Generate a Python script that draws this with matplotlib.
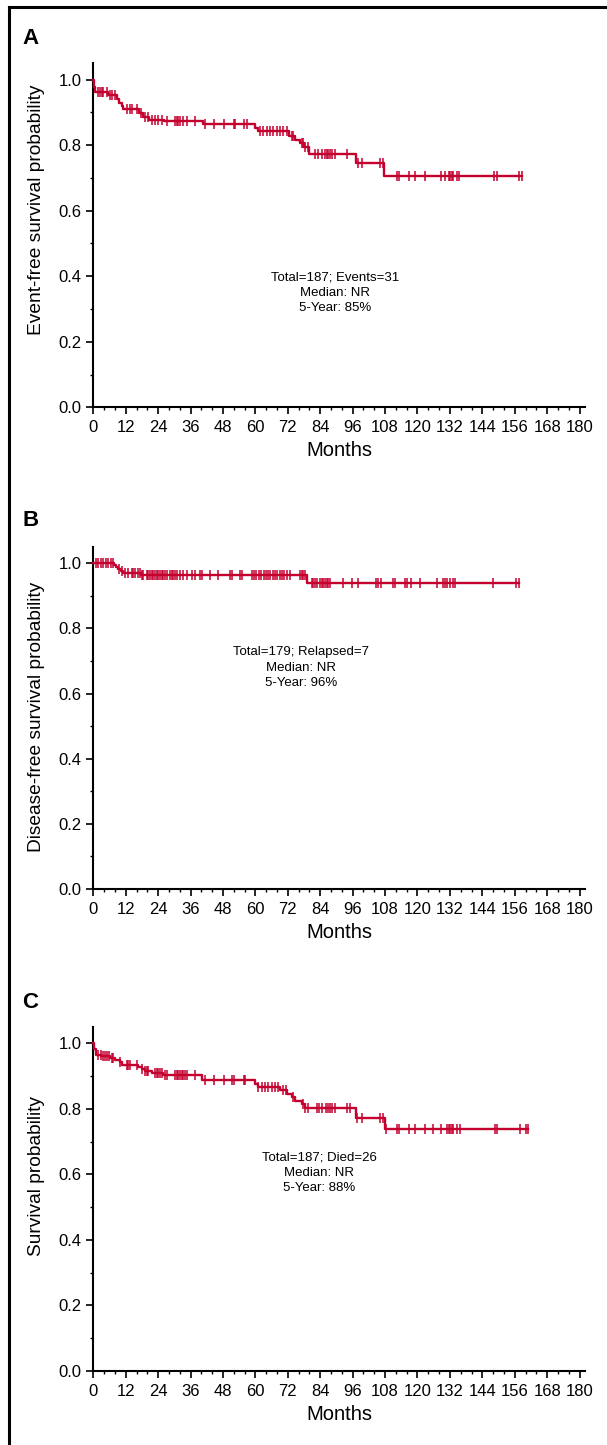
import matplotlib
matplotlib.use('Agg')
import matplotlib.pyplot as plt
from matplotlib.lines import Line2D
from matplotlib.ticker import MultipleLocator, FixedLocator
from matplotlib import font_manager
import numpy as np

plt.rcParams['font.family'] = ['Liberation Sans', 'DejaVu Sans']
_names = {f.name for f in font_manager.fontManager.ttflist}
NARROW = 'Liberation Sans Narrow' if 'Liberation Sans Narrow' in _names else None

RED = '#c4002f'
month_ticks = list(range(0, 181, 12))
y_ticks = [0.0, 0.2, 0.4, 0.6, 0.8, 1.0]

# ---------------- Panel A : event-free survival ----------------
a_times = [0, 0.3, 0.8, 5.5, 8.7, 9.6, 10.5, 11.0, 17.0, 18.5, 20.5, 26.0, 40.5,
           60.0, 61.0, 72.5, 74.5, 76.5, 78.0, 80.0, 97.3, 107.7]
a_surv = [1.0, 0.978, 0.962, 0.952, 0.941, 0.930, 0.920, 0.910, 0.898, 0.886, 0.877,
          0.873, 0.865, 0.851, 0.844, 0.829, 0.817, 0.806, 0.793, 0.773, 0.745, 0.707]
a_end = 158.7
a_cens = [1.9, 2.5, 3.1, 3.7, 4.9, 6.2, 6.8, 8.0, 12.4, 13.6, 14.5, 16.1, 17.6, 19.1, 20.4,
          21.6, 22.8, 24.1, 25.3, 27.2, 30.3, 30.9, 31.5, 32.1, 33.3, 34.6, 37.7, 41.4,
          44.5, 48.2, 51.9, 52.5, 55.6, 56.8, 61.7, 62.8, 64.2, 65.4, 66.7, 67.9, 69.1,
          70.4, 71.6, 73.5, 74.1, 77.2, 77.8, 78.4, 79.6, 82.1, 83.3, 84.6, 85.8, 86.4,
          87.0, 87.7, 88.3, 89.5, 93.8, 98.0, 99.4, 106.2, 107.2, 112.3, 113.3, 116.7,
          118.9, 122.6, 128.7, 130.2, 131.5, 132.1, 132.7, 133.3, 134.5, 135.4, 148.2,
          149.4, 157.7, 158.7]
a_text = 'Total=187; Events=31\nMedian: NR\n5-Year: 85%'
a_ylabel = 'Event-free survival probability'

# ---------------- Panel B : disease-free survival ----------------
b_times = [0, 7.6, 8.5, 9.3, 10.2, 11.0, 17.5, 79.0]
b_surv = [1.0, 0.994, 0.988, 0.982, 0.976, 0.970, 0.963, 0.940]
b_end = 157.4
b_cens = [1.0, 1.9, 2.7, 3.7, 4.7, 5.6, 6.5, 7.4, 9.6, 10.5, 11.7, 13.0, 14.2, 14.8, 15.4,
          16.7, 17.3, 17.9, 18.5, 19.8, 20.4, 21.0, 21.6, 22.2, 22.8, 23.5, 24.1, 24.7,
          25.3, 25.9, 26.5, 27.2, 28.4, 29.0, 29.6, 30.3, 30.9, 32.1, 33.3, 34.6, 36.4,
          37.7, 39.5, 40.1, 43.2, 46.3, 50.6, 51.2, 54.3, 54.9, 58.6, 59.5, 60.4, 61.2,
          62.1, 63.0, 63.8, 64.7, 65.5, 66.4, 67.3, 68.1, 69.0, 69.9, 70.7, 71.6, 72.8,
          76.5, 77.2, 77.8, 78.4, 80.9, 81.5, 82.1, 82.8, 84.0, 84.6, 85.2, 85.8, 86.4,
          87.0, 87.7, 92.6, 95.7, 98.1, 104.7, 105.3, 106.5, 110.9, 111.7, 115.2, 116.0,
          117.7, 121.0, 127.2, 129.6, 130.2, 130.9, 132.1, 133.3, 133.9, 148.0, 156.5,
          157.4]
b_text = 'Total=179; Relapsed=7\nMedian: NR\n5-Year: 96%'
b_ylabel = 'Disease-free survival probability'

# ---------------- Panel C : overall survival ----------------
c_times = [0, 0.4, 0.9, 3.0, 6.0, 8.0, 9.9, 10.5, 16.7, 17.9, 19.1, 21.6, 25.9, 40.1,
           60.0, 61.1, 69.1, 71.6, 73.5, 74.7, 77.2, 78.4, 97.3, 108.0]
c_surv = [1.0, 0.984, 0.966, 0.961, 0.955, 0.950, 0.943, 0.934, 0.927, 0.921, 0.916,
          0.911, 0.905, 0.888, 0.876, 0.867, 0.859, 0.847, 0.837, 0.824, 0.815, 0.803,
          0.773, 0.739]
c_end = 161.0
c_cens = [1.9, 2.7, 3.7, 4.3, 5.2, 5.9, 6.8, 7.4, 9.9, 12.4, 13.0, 13.6, 16.1, 17.9, 19.1,
          19.8, 20.4, 22.8, 23.5, 24.1, 24.7, 25.3, 26.5, 27.2, 30.3, 30.9, 31.5, 32.1,
          32.7, 33.3, 33.9, 34.6, 37.7, 41.4, 44.5, 48.2, 51.2, 51.9, 55.6, 56.2, 61.1,
          62.3, 63.6, 64.8, 66.0, 67.3, 68.5, 70.4, 71.4, 74.1, 77.5, 78.4, 79.6, 82.7,
          83.7, 84.6, 86.2, 86.8, 87.7, 88.3, 89.5, 93.8, 95.1, 97.5, 99.4, 106.2, 107.4,
          108.4, 112.3, 113.3, 117.0, 118.9, 122.6, 125.6, 128.7, 130.9, 131.5, 132.1,
          132.7, 133.3, 134.5, 135.8, 148.8, 149.6, 158.0, 160.1, 161.0]
c_text = 'Total=187; Died=26\nMedian: NR\n5-Year: 88%'
c_ylabel = 'Survival probability'

W, H = 607, 1445
fig = plt.figure(figsize=(W / 100, H / 100), dpi=100)

if NARROW:
    lab_font = [NARROW, 'Liberation Sans']
    tick_size, xlab_size, ylab_size = 14.0, 17.0, 16.5
else:
    lab_font = ['Liberation Sans', 'DejaVu Sans']
    tick_size, xlab_size, ylab_size = 12.0, 14.5, 13.8


def px_axes(x0, y_zero, y_top, x1):
    # pixel coordinates (from top) -> figure fraction rect
    return [x0 / W, 1 - y_zero / H, (x1 - x0) / W, (y_zero - y_top) / H]

panels = [
    dict(rect=px_axes(93.3, 407.3, 63.3, 585.0), times=a_times, surv=a_surv, end=a_end,
         cens=a_cens, text=a_text, tpos=(89.5, 0.350), ylabel=a_ylabel, ylab_y=0.574,
         letter='A', letter_y=38),
    dict(rect=px_axes(93.3, 889.0, 547.0, 585.0), times=b_times, surv=b_surv, end=b_end,
         cens=b_cens, text=b_text, tpos=(77.0, 0.680), ylabel=b_ylabel, ylab_y=0.503,
         letter='B', letter_y=521),
    dict(rect=px_axes(93.3, 1371.0, 1027.0, 585.0), times=c_times, surv=c_surv, end=c_end,
         cens=c_cens, text=c_text, tpos=(83.6, 0.605), ylabel=c_ylabel, ylab_y=0.567,
         letter='C', letter_y=1003),
]

for p in panels:
    ax = fig.add_axes(p['rect'])
    t = np.array(p['times'] + [p['end']])
    s = np.array(p['surv'] + [p['surv'][-1]])
    ax.step(t, s, where='post', color=RED, lw=1.7, clip_on=False, zorder=3)
    ct = np.array(p['cens'])
    idx = np.searchsorted(np.array(p['times']), ct, side='right') - 1
    cs = np.array(p['surv'])[idx]
    ax.plot(ct, cs, linestyle='none', marker='|', ms=7, mew=1.1, color=RED,
            clip_on=False, zorder=4)

    ax.set_xlim(0, 182)
    ax.set_ylim(0, 1.05)
    for side in ('top', 'right'):
        ax.spines[side].set_visible(False)
    for side in ('left', 'bottom'):
        ax.spines[side].set_linewidth(1.5)
    ax.xaxis.set_major_locator(FixedLocator(month_ticks))
    ax.xaxis.set_minor_locator(MultipleLocator(4))
    ax.yaxis.set_major_locator(FixedLocator(y_ticks))
    ax.yaxis.set_minor_locator(MultipleLocator(0.1))
    ax.set_yticklabels(['%.1f' % v for v in y_ticks])
    ax.tick_params(which='major', length=5, width=1.2)
    ax.tick_params(axis='x', which='major', pad=4.5)
    ax.tick_params(axis='y', which='major', pad=3.5)
    ax.tick_params(which='minor', length=2.5, width=1.0)
    for lab in ax.get_xticklabels() + ax.get_yticklabels():
        lab.set_family(lab_font)
        lab.set_fontsize(tick_size)
    ax.set_xlabel('Months', fontsize=xlab_size, labelpad=4, family=lab_font)
    ax.set_ylabel(p['ylabel'], fontsize=ylab_size, family=lab_font)
    ax.yaxis.set_label_coords(-0.098, p['ylab_y'])
    ax.text(p['tpos'][0], p['tpos'][1], p['text'], ha='center', va='center',
            fontsize=9.5, linespacing=1.35)
    fig.text(22 / W, 1 - p['letter_y'] / H, p['letter'], fontsize=16, fontweight='bold',
             ha='left', va='center')

# frame (left and top edges)
fig.add_artist(Line2D([8.5 / W, 8.5 / W], [0, 1 - 7 / H], color='black', lw=2.2,
                      transform=fig.transFigure))
fig.add_artist(Line2D([8.5 / W, 1.0], [1 - 7 / H, 1 - 7 / H], color='black', lw=2.2,
                      transform=fig.transFigure))

fig.savefig('out.png', dpi=100)
